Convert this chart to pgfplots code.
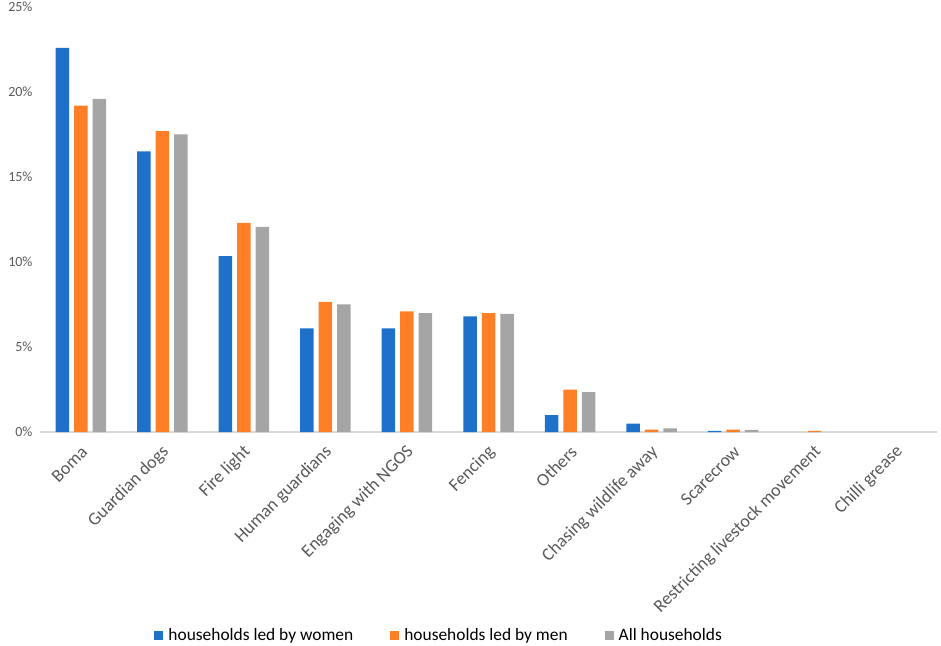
\documentclass[border=0pt]{standalone}
\usepackage{pgfplots}
\pgfplotsset{compat=1.18}
\usepackage{fontspec}
\setmainfont{Carlito}
\definecolor{cblue}{HTML}{1F70C8}
\definecolor{corange}{HTML}{FF7F27}
\definecolor{cgray}{HTML}{A5A5A5}
\definecolor{ctext}{HTML}{595959}
\definecolor{caxis}{HTML}{D9D9D9}
\begin{document}
\begin{tikzpicture}
\path[use as bounding box] (0,0) rectangle (941pt,645pt);
\begin{axis}[
    at={(40pt,213pt)}, anchor=south west,
    scale only axis,
    width=897pt, height=425pt,
    ybar=5pt, bar width=13.5pt,
    xmin=-0.5, xmax=10.5,
    ymin=0, ymax=25,
    ytick={0,5,10,15,20,25},
    yticklabel={\pgfmathprintnumber{\tick}\%},
    xtick={0,...,10},
    xticklabels={Boma,Guardian dogs,Fire light,Human guardians,Engaging with NGOS,Fencing,Others,Chasing wildlife away,Scarecrow,Restricting livestock movement,Chilli grease},
    xticklabel style={rotate=45, anchor=east, font=\fontsize{18}{21}\selectfont, text=ctext, yshift=-14.7pt, xshift=-6pt},
    yticklabel style={font=\fontsize{14}{17}\selectfont, text=ctext, xshift=-4pt},
    /pgf/number format/assume math mode=true,
    axis x line*=bottom, axis y line*=left,
    x axis line style={caxis, line width=1.5pt, -},
    y axis line style={draw=none},
    major tick length=0pt,
    legend columns=3,
    legend style={draw=none, at={(0.445,-0.478)}, anchor=center,
        font=\fontsize{17.4}{20}\selectfont, text=black,
        /tikz/every odd column/.append style={column sep=3pt},
        /tikz/every even column/.append style={column sep=35pt}},
    legend image code/.code={\fill[#1] (0pt,-4.5pt) rectangle (9pt,4.5pt);},
]
% zero values (Chilli grease, and women/all for restricting movement) are left out
\addplot[fill=cblue, draw=none] coordinates {(0,22.6) (1,16.5) (2,10.35) (3,6.1) (4,6.1) (5,6.8) (6,1.0) (7,0.5) (8,0.07)};
\addplot[fill=corange, draw=none] coordinates {(0,19.2) (1,17.7) (2,12.3) (3,7.65) (4,7.1) (5,7.0) (6,2.5) (7,0.14) (8,0.14) (9,0.07)};
\addplot[fill=cgray, draw=none] coordinates {(0,19.6) (1,17.5) (2,12.06) (3,7.5) (4,7.0) (5,6.95) (6,2.35) (7,0.22) (8,0.12)};
\legend{households led by women, households led by men, All households}
\end{axis}
\end{tikzpicture}
\end{document}
